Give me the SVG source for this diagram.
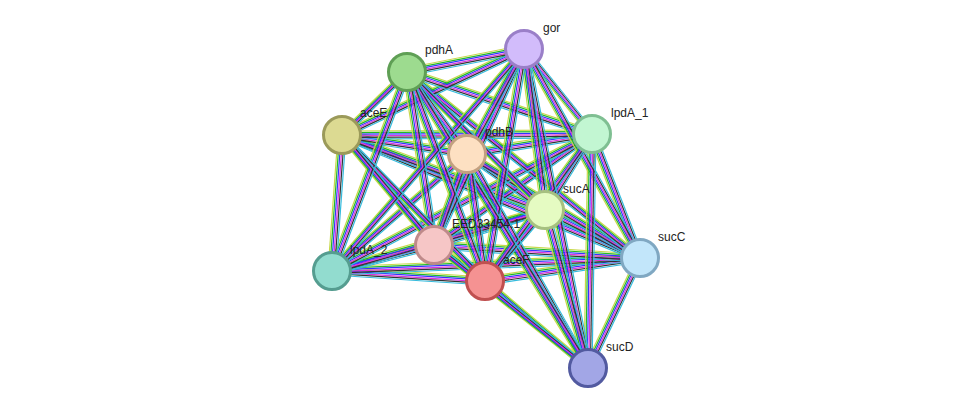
<svg xmlns="http://www.w3.org/2000/svg" xmlns:xlink="http://www.w3.org/1999/xlink" width="976" height="414" viewBox="0 0 976 414">
<style>
.n{stroke-width:3}
text{font-family:"Liberation Sans",Arial,sans-serif;font-size:12px;fill:#222}
.e line{stroke-width:1.2;fill:none}
</style>
<defs>
<g id="H" class="e">
<line x1="524" y1="49" x2="407" y2="72"/><line x1="524" y1="49" x2="342" y2="135"/>
<line x1="407" y1="72" x2="342" y2="135"/><line x1="407" y1="72" x2="592" y2="134"/><line x1="407" y1="72" x2="640" y2="258"/>
<line x1="342" y1="135" x2="592" y2="134"/><line x1="342" y1="135" x2="467" y2="154"/><line x1="342" y1="135" x2="545" y2="210"/><line x1="342" y1="135" x2="640" y2="258"/>
<line x1="592" y1="134" x2="467" y2="154"/><line x1="592" y1="134" x2="434" y2="245"/><line x1="592" y1="134" x2="332" y2="271"/>
<line x1="467" y1="154" x2="545" y2="210"/><line x1="467" y1="154" x2="332" y2="271"/><line x1="467" y1="154" x2="640" y2="258"/>
<line x1="545" y1="210" x2="434" y2="245"/><line x1="545" y1="210" x2="640" y2="258"/><line x1="545" y1="210" x2="332" y2="271"/>
<line x1="434" y1="245" x2="485" y2="281"/><line x1="434" y1="245" x2="332" y2="271"/><line x1="434" y1="245" x2="640" y2="258"/>
<line x1="332" y1="271" x2="485" y2="281"/><line x1="332" y1="271" x2="640" y2="258"/>
<line x1="485" y1="281" x2="640" y2="258"/><line x1="485" y1="281" x2="588" y2="368"/>
</g>
<g id="V" class="e">
<line x1="524" y1="49" x2="592" y2="134"/><line x1="524" y1="49" x2="467" y2="154"/><line x1="524" y1="49" x2="545" y2="210"/><line x1="524" y1="49" x2="434" y2="245"/><line x1="524" y1="49" x2="485" y2="281"/><line x1="524" y1="49" x2="640" y2="258"/><line x1="524" y1="49" x2="588" y2="368"/><line x1="524" y1="49" x2="332" y2="271"/>
<line x1="407" y1="72" x2="467" y2="154"/><line x1="407" y1="72" x2="545" y2="210"/><line x1="407" y1="72" x2="434" y2="245"/><line x1="407" y1="72" x2="485" y2="281"/><line x1="407" y1="72" x2="332" y2="271"/><line x1="407" y1="72" x2="588" y2="368"/>
<line x1="342" y1="135" x2="434" y2="245"/><line x1="342" y1="135" x2="485" y2="281"/><line x1="342" y1="135" x2="332" y2="271"/>
<line x1="592" y1="134" x2="545" y2="210"/><line x1="592" y1="134" x2="485" y2="281"/><line x1="592" y1="134" x2="640" y2="258"/><line x1="592" y1="134" x2="588" y2="368"/>
<line x1="467" y1="154" x2="434" y2="245"/><line x1="467" y1="154" x2="485" y2="281"/><line x1="467" y1="154" x2="588" y2="368"/>
<line x1="545" y1="210" x2="485" y2="281"/><line x1="545" y1="210" x2="588" y2="368"/>
<line x1="434" y1="245" x2="588" y2="368"/><line x1="640" y1="258" x2="588" y2="368"/>
</g>
</defs>
<rect width="976" height="414" fill="#fff"/>
<g id="connectors">
<use xlink:href="#H" y="-4" stroke="#c8d84a"/>
<use xlink:href="#H" y="-2.4" stroke="#22bb22"/>
<use xlink:href="#H" y="-0.8" stroke="#3333ff"/>
<use xlink:href="#H" y="0.8" stroke="#dd33dd"/>
<use xlink:href="#H" y="2.4" stroke="#333333"/>
<use xlink:href="#H" y="4" stroke="#33bbdd"/>
<use xlink:href="#V" x="-4" stroke="#c8d84a"/>
<use xlink:href="#V" x="-2.4" stroke="#22bb22"/>
<use xlink:href="#V" x="-0.8" stroke="#3333ff"/>
<use xlink:href="#V" x="0.8" stroke="#dd33dd"/>
<use xlink:href="#V" x="2.4" stroke="#333333"/>
<use xlink:href="#V" x="4" stroke="#33bbdd"/>
</g>
<g id="gor"><circle class="n" cx="524" cy="49" r="18.5" fill="#d2bcfb" stroke="#9a7fc8"/><text x="543" y="32">gor</text></g>
<g id="pdhA"><circle class="n" cx="407" cy="72" r="18.5" fill="#9ddb8f" stroke="#5f9f55"/><text x="425" y="54">pdhA</text></g>
<g id="aceE"><circle class="n" cx="342" cy="135" r="18.5" fill="#dcda92" stroke="#9b9a5a"/><text x="360" y="117">aceE</text></g>
<g id="lpdA_1"><circle class="n" cx="592" cy="134" r="18.5" fill="#c2f6d2" stroke="#7fbf92"/><text x="611" y="117">lpdA_1</text></g>
<g id="pdhB"><circle class="n" cx="467" cy="154" r="18.5" fill="#fde0c2" stroke="#c2a080"/><text x="485" y="136">pdhB</text></g>
<g id="sucA"><circle class="n" cx="545" cy="210" r="18.5" fill="#e5fbc2" stroke="#a6c080"/><text x="563" y="193">sucA</text></g>
<g id="EED33454.1"><circle class="n" cx="434" cy="245" r="18.5" fill="#f6c6c6" stroke="#bf8a8a"/><text x="452" y="228">EED33454.1</text></g>
<g id="lpdA_2"><circle class="n" cx="332" cy="271" r="18.5" fill="#92dccf" stroke="#559d90"/><text x="350" y="254">lpdA_2</text></g>
<g id="aceF"><circle class="n" cx="485" cy="281" r="18.5" fill="#f59292" stroke="#c05050"/><text x="503" y="264">aceF</text></g>
<g id="sucC"><circle class="n" cx="640" cy="258" r="18.5" fill="#c2e6fa" stroke="#80a8c2"/><text x="658" y="241">sucC</text></g>
<g id="sucD"><circle class="n" cx="588" cy="368" r="18.5" fill="#a2a6e6" stroke="#525aa0"/><text x="606" y="351">sucD</text></g>
</svg>
